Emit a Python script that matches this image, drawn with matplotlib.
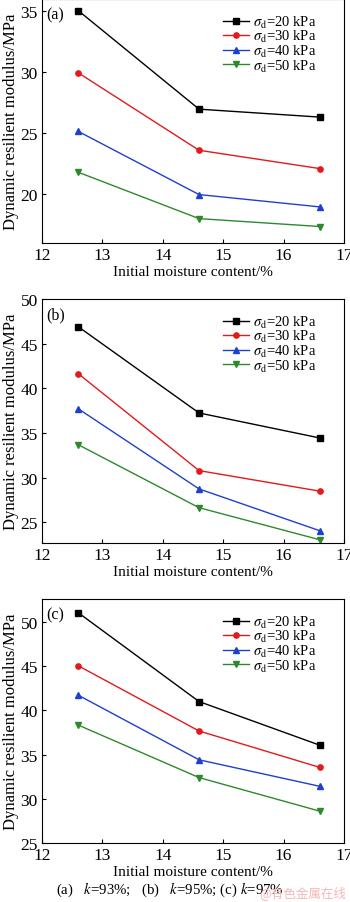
import numpy as np
import matplotlib.pyplot as plt

plt.rcParams['font.family'] = ['Liberation Serif', 'DejaVu Serif']
plt.rcParams['mathtext.fontset'] = 'stix'

# Initial moisture content (%)
moisture = [12.6, 14.6, 16.6]
stress_labels = ['20', '30', '40', '50']

# dynamic resilient modulus (MPa), one list per deviator stress
k93_20 = [35.05, 26.97, 26.32]
k93_30 = [29.95, 23.6, 22.1]
k93_40 = [25.15, 19.97, 18.96]
k93_50 = [21.8, 18.0, 17.35]

k95_20 = [46.9, 37.25, 34.45]
k95_30 = [41.65, 30.8, 28.5]
k95_40 = [37.72, 28.75, 24.07]
k95_50 = [33.7, 26.65, 23.06]

k97_20 = [51.05, 41.0, 36.06]
k97_30 = [45.05, 37.67, 33.55]
k97_40 = [41.72, 34.41, 31.41]
k97_50 = [38.34, 32.4, 28.6]

panels = [
    ('(a)', [k93_20, k93_30, k93_40, k93_50], (16, 36), [20, 25, 30, 35]),
    ('(b)', [k95_20, k95_30, k95_40, k95_50], (22.7, 50), [25, 30, 35, 40, 45, 50]),
    ('(c)', [k97_20, k97_30, k97_40, k97_50], (25, 52.6), [25, 30, 35, 40, 45, 50]),
]

colors = ['black', '#e3191c', '#1f3fcf', '#2c8a2c']
markers = ['s', 'o', '^', 'v']

fig = plt.figure(figsize=(3.5, 9.03), dpi=100)
W, H = 350, 903
tops = [0, 300, 600]

for (tag, series, ylim, yticks), top in zip(panels, tops):
    ax = fig.add_axes([42 / W, (H - top - 244) / H, 302 / W, 244 / H])
    for vals, c, m, s in zip(series, colors, markers, stress_labels):
        ax.plot(moisture, vals, color=c, marker=m, markersize=3.8, linewidth=1.0,
                label=r'$\sigma_{\rm d}$=' + s + ' kPa')
    ax.set_xlim(12, 17)
    ax.set_ylim(*ylim)
    ax.set_xticks([12, 13, 14, 15, 16, 17])
    ax.set_yticks(yticks)
    ax.tick_params(direction='in', length=3, labelsize=12.5, pad=3)
    ax.set_xlabel('Initial moisture content/%', fontsize=11.0, labelpad=1)
    ax.set_ylabel('Dynamic resilient modulus/MPa', fontsize=12.0, labelpad=1)
    ax.text(0.015, 0.97, tag, transform=ax.transAxes, fontsize=11.5, va='top', ha='left')
    ax.legend(loc='upper left', frameon=False, fontsize=10.5, handlelength=1.8,
              handletextpad=0.25, labelspacing=-0.1, borderaxespad=0, borderpad=0,
              bbox_to_anchor=(0.599, 0.94))

fig.text(170 / W, 1 - 890 / H, '(a)   $k$=93%;   (b)   $k$=95%; (c) $k$=97%',
         ha='center', va='center', fontsize=10.7)
fig.text(346 / W, 1 - 893 / H, '@有色金属在线', ha='right', va='center', fontsize=9,
         color='#f2b8b8', family=['Noto Sans CJK SC', 'DejaVu Sans'])

fig.savefig('out.png', dpi=100)
